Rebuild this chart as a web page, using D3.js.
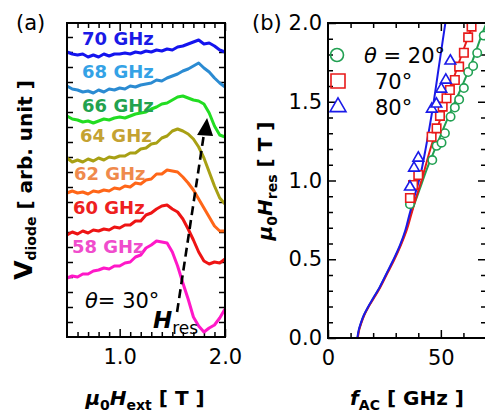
<!DOCTYPE html>
<html>
<head>
<meta charset="utf-8">
<script src="https://cdn.jsdelivr.net/npm/d3@7"></script>
<style>
  body { margin: 0; background: #fff; }
  svg { font-family: "DejaVu Sans", Verdana, sans-serif; }
</style>
</head>
<body>
<div id="chart"></div>
<script>
// ---- panel (a): field sweeps at theta = 30 deg ----
const fieldT = [0.5, 0.55, 0.6, 0.65, 0.7, 0.75, 0.8, 0.85, 0.9, 0.95, 1.0, 1.05, 1.1, 1.15, 1.2,
  1.25, 1.3, 1.35, 1.4, 1.45, 1.5, 1.55, 1.6, 1.65, 1.7, 1.75, 1.8, 1.85, 1.9, 1.95, 2.0];

const freqNames = ["70 GHz", "68 GHz", "66 GHz", "64 GHz", "62 GHz", "60 GHz", "58 GHz"];

// V_diode, arb. unit (offset stacked)
const v70 = [285, 283, 282, 283, 280, 282, 280, 283, 281, 283, 283, 284, 283, 285, 284, 286, 285, 287, 286, 288, 287, 290, 291, 293, 295, 297, 293, 294, 291, 287, 285];
const v68 = [251, 248, 247, 245, 246, 244, 247, 245, 248, 247, 249, 248, 251, 250, 252, 253, 254, 257, 256, 259, 261, 263, 266, 268, 271, 274, 269, 265, 259, 254, 250];
const v66 = [221, 218, 217, 215, 216, 214, 216, 218, 217, 219, 220, 219, 221, 223, 224, 225, 228, 230, 233, 234, 237, 240, 241, 239, 237, 236, 233, 224, 211, 202, 200];
const v64 = [179, 175, 177, 175, 178, 176, 179, 177, 180, 179, 181, 181, 184, 184, 188, 189, 193, 194, 199, 201, 206, 208, 206, 203, 198, 190, 179, 165, 151, 139, 133];
const v62 = [144, 146, 144, 145, 143, 146, 145, 147, 146, 149, 148, 151, 150, 154, 153, 157, 158, 163, 163, 167, 166, 165, 160, 154, 147, 138, 129, 120, 111, 106, 106];
const v60 = [102, 105, 103, 106, 104, 107, 106, 108, 107, 110, 109, 112, 112, 116, 116, 122, 124, 128, 131, 132, 128, 125, 118, 108, 97, 85, 76, 73, 75, 74, 78];
const v58 = [59, 61, 60, 63, 63, 66, 67, 69, 68, 71, 71, 74, 75, 80, 82, 89, 92, 96, 95, 94, 85, 71, 54, 38, 20, 11, 5, 9, 12, 19, 28];

// ---- panel (b): resonance field vs frequency ----
const angleNames = ["20°", "70°", "80°"];

const freq20 = [36.3, 46.2, 48.1, 50.3, 51.8, 54.3, 56.2, 58.1, 60.2, 62.1, 64.3, 66.1, 69.0];
const hres20 = [0.85, 1.13, 1.22, 1.24, 1.30, 1.405, 1.463, 1.514, 1.587, 1.689, 1.727, 1.81, 1.92];
const freq70 = [36.3, 37.7, 40.0, 45.9, 48.1, 49.6, 50.8, 52.5, 54.0, 56.2, 58.1, 60.2, 62.1, 63.6];
const hres70 = [0.889, 0.971, 1.035, 1.278, 1.331, 1.41, 1.469, 1.522, 1.575, 1.638, 1.723, 1.811, 1.909, 1.977];
const freq80 = [36.3, 38.1, 40.0, 46.0, 48.0, 50.2, 52.2, 54.2];
const hres80 = [0.959, 1.079, 1.143, 1.454, 1.486, 1.581, 1.638, 1.759];

// fitted curves
const fitF20 = [13.1, 13.7, 14.6, 16.0, 17.9, 20.1, 23.1, 26.1, 29.1, 32.1, 34.6, 36.5, 38.5, 40.5, 44, 48, 52, 56, 60, 64, 68, 70.5];
const fitH20 = [0, 0.05, 0.093, 0.146, 0.199, 0.252, 0.326, 0.411, 0.495, 0.59, 0.686, 0.78, 0.86, 0.94, 1.08, 1.22, 1.36, 1.49, 1.62, 1.76, 1.92, 2.01];
const fitF70 = [13.2, 13.8, 14.7, 16.1, 18.0, 20.3, 23.3, 26.3, 29.3, 32.3, 34.9, 36.8, 38.8, 41.0, 45.9, 50.0, 55.0, 60.0, 64.5];
const fitH70 = [0, 0.05, 0.093, 0.146, 0.199, 0.252, 0.326, 0.411, 0.495, 0.59, 0.686, 0.78, 0.88, 0.98, 1.225, 1.40, 1.62, 1.83, 2.0];
const fitF80 = [13.0, 13.6, 14.5, 15.9, 17.8, 20.0, 23.0, 26.0, 28.9, 31.9, 34.3, 36.0, 38.3, 40.7, 43.5, 46.3, 49.3, 52.3];
const fitH80 = [0, 0.05, 0.093, 0.146, 0.199, 0.252, 0.326, 0.411, 0.495, 0.59, 0.686, 0.78, 0.90, 1.02, 1.22, 1.45, 1.74, 2.03];

const svg = d3.select('#chart')
  .append('svg')
  .attr('width', 485)
  .attr('height', 415);

// common tick helper: inward ticks, no domain path
function ticks(g, axis) {
  g.call(axis);
  g.select('.domain').remove();
  g.selectAll('.tick line').attr('stroke', '#000').attr('stroke-width', 1.5);
  g.selectAll('.tick text').attr('font-size', 21).attr('fill', '#000')
    .attr('font-family', '"DejaVu Sans", Verdana, sans-serif');
}

// ================= panel (a) =================
const xA = d3.scaleLinear().domain([0.5, 2.0]).range([67, 225]);
const yA = d3.scaleLinear().domain([0, 314]).range([337, 23]);

const lineColors = ['#1414ee', '#2b8bd2', '#22dd22', '#a8a014', '#ff6618', '#ee1414', '#ff18c8'];
const labelColors = ['#1a1ae6', '#34a2e6', '#22a24e', '#c4a232', '#ef8a4c', '#ee2020', '#f04ccc'];
const spectra = [v70, v68, v66, v64, v62, v60, v58];

const gA = svg.append('g');

const minorA = d3.range(6, 20).map(d => d / 10).filter(d => d !== 1.0 && d !== 2.0);
ticks(gA.append('g').attr('transform', 'translate(0,337)'),
  d3.axisBottom(xA).tickValues([1.0, 2.0]).tickFormat(d3.format('.1f')).tickSize(-8).tickPadding(12));
ticks(gA.append('g').attr('transform', 'translate(0,337)'),
  d3.axisBottom(xA).tickValues(minorA).tickFormat('').tickSize(-5));
ticks(gA.append('g').attr('transform', 'translate(0,23)'),
  d3.axisTop(xA).tickValues([1.0, 2.0]).tickFormat('').tickSize(-8));
ticks(gA.append('g').attr('transform', 'translate(0,23)'),
  d3.axisTop(xA).tickValues(minorA).tickFormat('').tickSize(-5));
const yTicksA = d3.range(15, 314, 15);
ticks(gA.append('g').attr('transform', 'translate(67,0)'),
  d3.axisLeft(yA).tickValues(yTicksA).tickFormat('').tickSize(-6));
ticks(gA.append('g').attr('transform', 'translate(225,0)'),
  d3.axisRight(yA).tickValues(yTicksA).tickFormat('').tickSize(-6));

const lineA = d3.line()
  .x((d, i) => xA(fieldT[i]))
  .y(d => yA(d));

gA.selectAll('path.spec')
  .data(spectra)
  .join('path')
  .attr('class', 'spec')
  .attr('d', lineA)
  .attr('fill', 'none')
  .attr('stroke', (d, i) => lineColors[i])
  .attr('stroke-width', 3)
  .attr('stroke-linejoin', 'round');

// frequency labels
const labelSpots = [[0.643, 292], [0.643, 259], [0.643, 225], [0.624, 195], [0.566, 157], [0.557, 123], [0.547, 84]];
gA.selectAll('text.flab')
  .data(freqNames)
  .join('text')
  .attr('class', 'flab')
  .attr('x', (d, i) => xA(labelSpots[i][0]))
  .attr('y', (d, i) => yA(labelSpots[i][1]))
  .attr('font-size', 18)
  .attr('font-weight', 'bold')
  .attr('fill', (d, i) => labelColors[i])
  .text(d => d);

// dashed arrow towards H_res
gA.append('line')
  .attr('x1', xA(1.545)).attr('y1', yA(25))
  .attr('x2', xA(1.80)).attr('y2', yA(203))
  .attr('stroke', '#000')
  .attr('stroke-width', 2.6)
  .attr('stroke-dasharray', '9,5');
gA.append('path')
  .attr('d', () => {
    const tx = xA(1.83), ty = yA(219);
    return `M${tx},${ty} L${tx - 10},${ty + 17} L${tx + 6},${ty + 18} Z`;
  })
  .attr('fill', '#000');

const hres = gA.append('text').attr('x', 153).attr('y', 328);
hres.append('tspan').text('H').attr('font-size', 23).attr('font-weight', 'bold').attr('font-style', 'italic');
hres.append('tspan').text('res').attr('font-size', 17).attr('dy', 6);

const th = gA.append('text').attr('x', 85).attr('y', 308).attr('font-size', 21);
th.append('tspan').text('θ').attr('font-style', 'italic');
th.append('tspan').text('= 30°');

gA.append('rect')
  .attr('x', 67).attr('y', 23)
  .attr('width', 158).attr('height', 314)
  .attr('fill', 'none').attr('stroke', '#000').attr('stroke-width', 2);

svg.append('text').attr('x', 16).attr('y', 30).attr('font-size', 21).text('(a)');

// axis titles (a)
const xtA = svg.append('text').attr('x', 145).attr('y', 405)
  .attr('text-anchor', 'middle').attr('font-weight', 'bold').attr('font-size', 20);
xtA.append('tspan').text('μ').attr('font-style', 'italic');
xtA.append('tspan').text('0').attr('font-size', 14).attr('dy', 5);
xtA.append('tspan').text('H').attr('font-style', 'italic').attr('dy', -5);
xtA.append('tspan').text('ext').attr('font-size', 14).attr('dy', 5);
xtA.append('tspan').text(' [ T ]').attr('dy', -5);

const ytA = svg.append('text')
  .attr('transform', 'translate(32,180) rotate(-90)')
  .attr('text-anchor', 'middle').attr('font-weight', 'bold').attr('font-size', 20);
ytA.append('tspan').text('V').attr('font-size', 25);
ytA.append('tspan').text('diode').attr('font-size', 14).attr('dy', 4);
ytA.append('tspan').text(' [ arb. unit ]').attr('dy', -4);

// ================= panel (b) =================
const xB = d3.scaleLinear().domain([0, 70]).range([328, 486]);
const yB = d3.scaleLinear().domain([0, 2]).range([338, 23]);

const gB = svg.append('g');

ticks(gB.append('g').attr('transform', 'translate(0,338)'),
  d3.axisBottom(xB).tickValues([0, 50]).tickFormat(d3.format('d')).tickSize(-8).tickPadding(12));
ticks(gB.append('g').attr('transform', 'translate(0,338)'),
  d3.axisBottom(xB).tickValues([10, 20, 30, 40, 60]).tickFormat('').tickSize(-5));
ticks(gB.append('g').attr('transform', 'translate(0,23)'),
  d3.axisTop(xB).tickValues([50]).tickFormat('').tickSize(-8));
ticks(gB.append('g').attr('transform', 'translate(0,23)'),
  d3.axisTop(xB).tickValues([10, 20, 30, 40, 60]).tickFormat('').tickSize(-5));

const minorB = d3.range(1, 20).map(d => d / 10).filter(d => Math.round(d * 10) % 5 !== 0);
ticks(gB.append('g').attr('transform', 'translate(328,0)'),
  d3.axisLeft(yB).tickValues([0, 0.5, 1.0, 1.5, 2.0]).tickFormat(d3.format('.1f')).tickSize(-8).tickPadding(6));
ticks(gB.append('g').attr('transform', 'translate(328,0)'),
  d3.axisLeft(yB).tickValues(minorB).tickFormat('').tickSize(-5));
ticks(gB.append('g').attr('transform', 'translate(486,0)'),
  d3.axisRight(yB).tickValues([0.5, 1.0, 1.5]).tickFormat('').tickSize(-8));
ticks(gB.append('g').attr('transform', 'translate(486,0)'),
  d3.axisRight(yB).tickValues(minorB).tickFormat('').tickSize(-5));

svg.append('clipPath').attr('id', 'clipB')
  .append('rect').attr('x', 328).attr('y', 23).attr('width', 158).attr('height', 315);

const plotB = gB.append('g').attr('clip-path', 'url(#clipB)');

const fitColors = ['#21a052', '#e81a1a', '#1a1ae8'];
const fits = [[fitF20, fitH20], [fitF70, fitH70], [fitF80, fitH80]];

plotB.selectAll('path.fit')
  .data(fits)
  .join('path')
  .attr('class', 'fit')
  .attr('d', d => d3.line().curve(d3.curveMonotoneY)
    .x((v, i) => xB(v))
    .y((v, i) => yB(d[1][i]))(d[0]))
  .attr('fill', 'none')
  .attr('stroke', (d, i) => fitColors[i])
  .attr('stroke-width', 2);

// theta = 20: circles
plotB.selectAll('circle.p20')
  .data(freq20)
  .join('circle')
  .attr('class', 'p20')
  .attr('cx', d => xB(d))
  .attr('cy', (d, i) => yB(hres20[i]))
  .attr('r', 4.2)
  .attr('fill', '#fff')
  .attr('stroke', fitColors[0])
  .attr('stroke-width', 1.6);

// theta = 70: squares
plotB.selectAll('path.p70')
  .data(freq70)
  .join('path')
  .attr('class', 'p70')
  .attr('d', d3.symbol(d3.symbolSquare, 72))
  .attr('transform', (d, i) => `translate(${xB(d)},${yB(hres70[i])})`)
  .attr('fill', '#fff')
  .attr('stroke', fitColors[1])
  .attr('stroke-width', 1.6);

// theta = 80: triangles
plotB.selectAll('path.p80')
  .data(freq80)
  .join('path')
  .attr('class', 'p80')
  .attr('d', d3.symbol(d3.symbolTriangle, 50))
  .attr('transform', (d, i) => `translate(${xB(d)},${yB(hres80[i])})`)
  .attr('fill', '#fff')
  .attr('stroke', fitColors[2])
  .attr('stroke-width', 1.6);

// legend
const leg = gB.append('g');
leg.append('circle').attr('cx', 337).attr('cy', 55).attr('r', 6.5)
  .attr('fill', 'none').attr('stroke', fitColors[0]).attr('stroke-width', 1.6);
leg.append('path').attr('d', d3.symbol(d3.symbolSquare, 196)())
  .attr('transform', 'translate(338,81)')
  .attr('fill', 'none').attr('stroke', fitColors[1]).attr('stroke-width', 1.6);
leg.append('path').attr('d', d3.symbol(d3.symbolTriangle, 110)())
  .attr('transform', 'translate(338,107)')
  .attr('fill', 'none').attr('stroke', fitColors[2]).attr('stroke-width', 1.6);

const l0 = leg.append('text').attr('x', 364).attr('y', 63).attr('font-size', 21);
l0.append('tspan').text('θ').attr('font-style', 'italic');
l0.append('tspan').text(' = ' + angleNames[0]);
leg.append('text').attr('x', 375).attr('y', 89).attr('font-size', 21).text(angleNames[1]);
leg.append('text').attr('x', 375).attr('y', 115).attr('font-size', 21).text(angleNames[2]);

gB.append('rect')
  .attr('x', 328).attr('y', 23)
  .attr('width', 158).attr('height', 315)
  .attr('fill', 'none').attr('stroke', '#000').attr('stroke-width', 2);

svg.append('text').attr('x', 252).attr('y', 30).attr('font-size', 21).text('(b)');

const xtB = svg.append('text').attr('x', 407).attr('y', 405)
  .attr('text-anchor', 'middle').attr('font-weight', 'bold').attr('font-size', 20);
xtB.append('tspan').text('f').attr('font-style', 'italic');
xtB.append('tspan').text('AC').attr('font-size', 14).attr('dy', 5);
xtB.append('tspan').text(' [ GHz ]').attr('dy', -5);

const ytB = svg.append('text')
  .attr('transform', 'translate(272,181) rotate(-90)')
  .attr('text-anchor', 'middle').attr('font-weight', 'bold').attr('font-size', 20);
ytB.append('tspan').text('μ').attr('font-style', 'italic');
ytB.append('tspan').text('0').attr('font-size', 14).attr('dy', 5);
ytB.append('tspan').text('H').attr('font-style', 'italic').attr('dy', -5);
ytB.append('tspan').text('res').attr('font-size', 14).attr('dy', 5);
ytB.append('tspan').text(' [ T ]').attr('dy', -5);
</script>
</body>
</html>
